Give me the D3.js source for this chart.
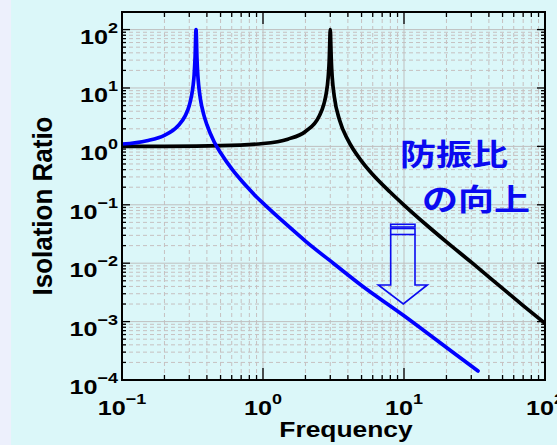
<!DOCTYPE html>
<html>
<head>
<meta charset="utf-8">
<script src="https://cdn.jsdelivr.net/npm/d3@7"></script>
<style>
  html, body { margin: 0; padding: 0; background: #dbf7f9; }
  svg { display: block; }
</style>
</head>
<body>
<svg id="chart" width="557" height="445"></svg>
<script>
// Frequency response of two isolators: original (black) and softened mount (blue)
const freqBlack = [0.1, 0.2, 0.5, 1, 1.5, 2, 2.5, 2.7, 2.8, 2.9, 2.95, 2.97, 3.0,
  3.03, 3.05, 3.1, 3.2, 3.5, 4, 5, 6, 8, 10, 15, 20, 30, 50, 70, 100];
const ratioBlack = [1.0, 1.004, 1.03, 1.12, 1.33, 1.8, 3.27, 5.26, 7.76, 15.3, 30, 50, 100,
  50, 29.8, 14.7, 7.26, 2.77, 1.29, 0.56, 0.33, 0.164, 0.099, 0.0417, 0.0232, 0.0104, 0.0037, 0.00188, 0.00093];

const freqBlue = [0.1, 0.15, 0.2, 0.25, 0.28, 0.3, 0.31, 0.32, 0.325, 0.33, 0.335,
  0.34, 0.345, 0.35, 0.36, 0.38, 0.4, 0.45, 0.5, 0.612, 0.7, 0.8, 0.9, 1.03, 1.5, 2, 3.15,
  5, 10, 20, 33.5];
const ratioBlue = [1.09, 1.25, 1.55, 2.26, 3.3, 5.0, 7.0, 11.4, 17, 34, 100,
  33, 16.5, 10.9, 6.4, 3.5, 2.35, 1.2, 0.78, 0.389, 0.264, 0.184, 0.136, 0.1, 0.0438, 0.0239, 0.01,
  0.00416, 0.00126, 0.000361, 0.000143];

const xTickValues = [0.1, 1, 10, 100];
const xTickExponents = ["\u22121", "0", "1", "2"];
const yTickValues = [1e-4, 1e-3, 1e-2, 1e-1, 1, 10, 100];
const yTickExponents = ["\u22124", "\u22123", "\u22122", "\u22121", "0", "1", "2"];

const xLabel = "Frequency";
const yLabel = "Isolation Ratio";
const noteLines = ["防振比", "の向上"];

(function draw() {
  const svg = d3.select("#chart");
  const W = 557, H = 445;
  const pLeft = 122, pRight = 545, pTop = 12, pBottom = 380;

  // background with lighter strip on the far left
  svg.append("rect").attr("width", W).attr("height", H).attr("fill", "#dbf7f9");
  svg.append("rect").attr("width", 11).attr("height", H).attr("fill", "#edf0fc");

  const x = d3.scaleLog().domain([0.1, 100]).range([pLeft, pRight]);
  const y = d3.scaleLog().domain([1e-4, 200]).range([pBottom, pTop]);

  // minor values for the log grid
  const xMinor = [], yMinor = [];
  for (let e = -1; e < 2; e++) for (let k = 2; k <= 9; k++) xMinor.push(k * Math.pow(10, e));
  for (let e = -4; e < 2; e++) for (let k = 2; k <= 9; k++) yMinor.push(k * Math.pow(10, e));

  const grid = svg.append("g");
  grid.selectAll(".xmin").data(xMinor).join("line")
    .attr("x1", d => x(d)).attr("x2", d => x(d)).attr("y1", pTop).attr("y2", pBottom)
    .attr("stroke", "#c6c0c0").attr("stroke-width", 1).attr("stroke-dasharray", "4,3");
  grid.selectAll(".ymin").data(yMinor).join("line")
    .attr("x1", pLeft).attr("x2", pRight).attr("y1", d => y(d)).attr("y2", d => y(d))
    .attr("stroke", "#c6c0c0").attr("stroke-width", 1).attr("stroke-dasharray", "4,3");
  grid.selectAll(".xmaj").data(xTickValues).join("line")
    .attr("x1", d => x(d)).attr("x2", d => x(d)).attr("y1", pTop).attr("y2", pBottom)
    .attr("stroke", "#bfbfbf").attr("stroke-width", 1);
  grid.selectAll(".ymaj").data(yTickValues).join("line")
    .attr("x1", pLeft).attr("x2", pRight).attr("y1", d => y(d)).attr("y2", d => y(d))
    .attr("stroke", "#bfbfbf").attr("stroke-width", 1);

  // curves
  svg.append("clipPath").attr("id", "plotclip")
    .append("rect").attr("x", pLeft).attr("y", pTop).attr("width", pRight - pLeft).attr("height", pBottom - pTop);

  const line = d3.line().x(d => x(d[0])).y(d => y(d[1])).curve(d3.curveMonotoneX);
  const plot = svg.append("g").attr("clip-path", "url(#plotclip)");
  plot.append("path").datum(d3.zip(freqBlack, ratioBlack)).attr("d", line)
    .attr("fill", "none").attr("stroke", "#000").attr("stroke-width", 3.7)
    .attr("stroke-linejoin", "round").attr("stroke-linecap", "round");
  plot.append("path").datum(d3.zip(freqBlue, ratioBlue)).attr("d", line)
    .attr("fill", "none").attr("stroke", "#0000ff").attr("stroke-width", 3.7)
    .attr("stroke-linejoin", "round").attr("stroke-linecap", "round");

  // axes: ticks inward on all four sides
  const axes = svg.append("g").attr("stroke", "#000").attr("stroke-width", 1.3);
  function tickLines(vals, len, side) {
    vals.forEach(v => {
      if (side === "bottom") axes.append("line").attr("x1", x(v)).attr("x2", x(v)).attr("y1", pBottom).attr("y2", pBottom - len);
      if (side === "top") axes.append("line").attr("x1", x(v)).attr("x2", x(v)).attr("y1", pTop).attr("y2", pTop + len);
      if (side === "left") axes.append("line").attr("y1", y(v)).attr("y2", y(v)).attr("x1", pLeft).attr("x2", pLeft + len);
      if (side === "right") axes.append("line").attr("y1", y(v)).attr("y2", y(v)).attr("x1", pRight).attr("x2", pRight - len);
    });
  }
  tickLines(xMinor, 5, "bottom"); tickLines(xMinor, 5, "top");
  tickLines(xTickValues, 12, "bottom"); tickLines(xTickValues, 12, "top");
  tickLines(yMinor, 4, "left"); tickLines(yMinor, 4, "right");
  tickLines(yTickValues, 8, "left"); tickLines(yTickValues, 8, "right");
  svg.append("rect").attr("x", pLeft).attr("y", pTop).attr("width", pRight - pLeft).attr("height", pBottom - pTop)
    .attr("fill", "none").attr("stroke", "#000").attr("stroke-width", 2);

  // tick labels: 10 with superscript exponent
  const font = "'Liberation Sans', Arial, sans-serif";
  function powerLabel(g, exp, anchor) {
    const t = g.append("text").attr("text-anchor", anchor)
      .attr("font-family", font).attr("font-weight", "bold").attr("fill", "#000");
    t.append("tspan").attr("font-size", 21).text("10");
    t.append("tspan").attr("font-size", 15).attr("dy", -11).text(exp);
  }
  xTickValues.forEach((v, i) => {
    const g = svg.append("g").attr("transform", `translate(${x(v)},415) scale(1.2,1)`);
    powerLabel(g, xTickExponents[i], "middle");
  });
  yTickValues.forEach((v, i) => {
    const g = svg.append("g").attr("transform", `translate(118,${y(v) + 14}) scale(1.2,1)`);
    powerLabel(g, yTickExponents[i], "end");
  });

  // axis titles
  svg.append("g").attr("transform", "translate(346,437) scale(1.2,1)")
    .append("text").attr("text-anchor", "middle").attr("font-family", font)
    .attr("font-weight", "bold").attr("font-size", 22).text(xLabel);
  svg.append("g").attr("transform", "translate(52,206) scale(1.07,1) rotate(-90)")
    .append("text").attr("text-anchor", "middle").attr("font-family", font)
    .attr("font-weight", "bold").attr("font-size", 26).text(yLabel);

  // annotation
  const noteG = svg.append("g").attr("fill", "#0a0af0")
    .attr("font-family", "'Noto Sans CJK JP', sans-serif").attr("font-weight", "bold");
  [[400, 165], [422, 210]].forEach((p, i) => {
    noteG.append("g").attr("transform", `translate(${p[0]},${p[1]}) scale(1.2,1)`)
      .append("text").attr("font-size", 30).text(noteLines[i]);
  });

  // hollow down arrow
  const arrow = svg.append("g").attr("fill", "none").attr("stroke", "#0a0af0").attr("stroke-width", 1.6);
  arrow.append("rect").attr("x", 390.7).attr("y", 224.3).attr("width", 24.3).attr("height", 2.7);
  arrow.append("rect").attr("x", 390.7).attr("y", 228.5).attr("width", 24.3).attr("height", 6);
  arrow.append("path").attr("d", "M390.7,234.5 L390.7,285 L378.3,285 L403.3,304 L427.3,285 L415,285 L415,234.5");
})();
</script>
</body>
</html>
